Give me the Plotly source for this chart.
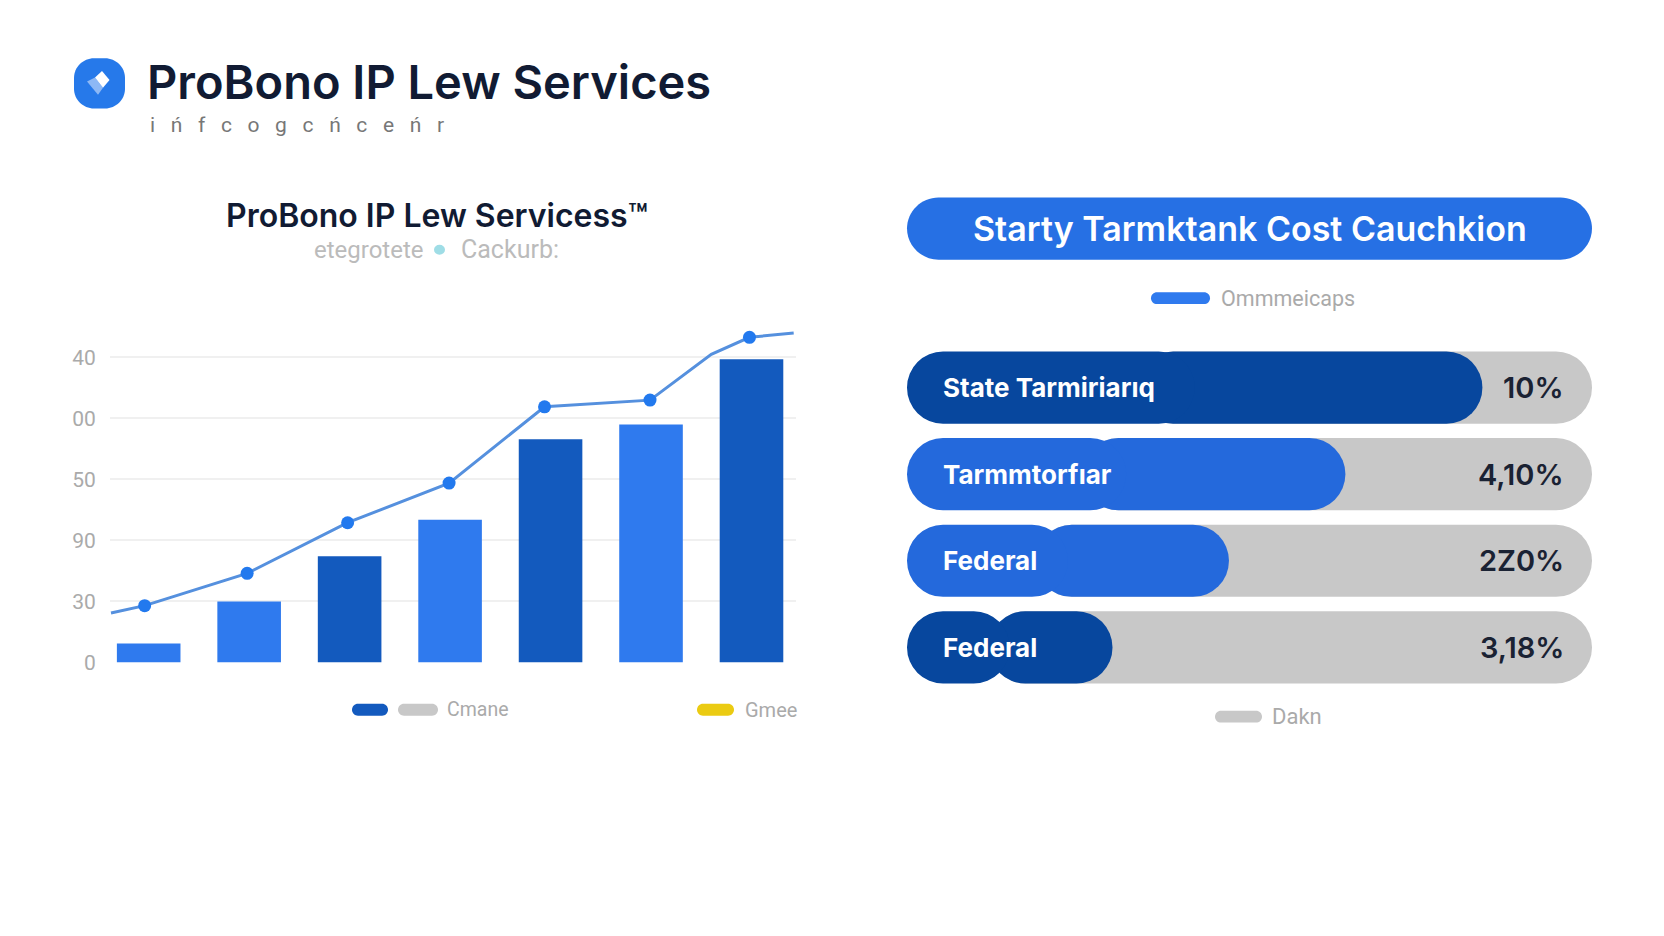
import plotly.graph_objects as go

W = 1664
H = 936

# left chart
bar_x = [0, 1, 2, 3, 4, 5, 6]
bar_values = [3.1, 10, 17.4, 23.4, 36.6, 39, 49.7]
bar_kind = ["light", "light", "dark", "light", "dark", "light", "dark"]
point_x = [-0.04, 0.98, 1.98, 2.99, 3.94, 4.99, 5.98]
point_values = [9.3, 14.6, 22.9, 29.4, 41.9, 43, 53.3]
line_x = [-0.375, -0.04, 0.98, 1.98, 2.99, 3.94, 4.99, 5.6, 5.98, 6.42]
line_values = [8.1, 9.3, 14.6, 22.9, 29.4, 41.9, 43, 50.5, 53.3, 54]
tick_vals = [0, 10, 20, 30, 40, 50]
tick_text = ["0", "30", "90", "50", "00", "40"]

# right chart
row_y = [0, 1, 2, 3]
row_labels = ["State Tarmiriarıq", "Tarmmtorfıar", "Federal", "Federal"]
row_fill = [84, 64, 47, 30]
row_text = ["10%", "4,10%", "2Z0%", "3,18%"]
row_kind = ["dark", "mid", "mid", "dark"]
row_track = [100, 100, 100, 100]

LIGHT = "#2F7AEE"
DARK = "#135ABE"
colors_left = {"light": LIGHT, "dark": DARK}
colors_right = {"dark": "#07479E", "mid": "#2469DC"}


def fx(px):
    return px / W


def fy(px):
    return 1 - px / H


def pill(x0, x1, y0, y1, color, r=None):
    # rounded rectangle, given in page pixels
    if r is None:
        r = (y1 - y0) / 2
    k = r * 0.45
    p = [
        f"M {fx(x0 + r)} {fy(y0)}",
        f"L {fx(x1 - r)} {fy(y0)}",
        f"C {fx(x1 - k)} {fy(y0)} {fx(x1)} {fy(y0 + k)} {fx(x1)} {fy(y0 + r)}",
        f"L {fx(x1)} {fy(y1 - r)}",
        f"C {fx(x1)} {fy(y1 - k)} {fx(x1 - k)} {fy(y1)} {fx(x1 - r)} {fy(y1)}",
        f"L {fx(x0 + r)} {fy(y1)}",
        f"C {fx(x0 + k)} {fy(y1)} {fx(x0)} {fy(y1 - k)} {fx(x0)} {fy(y1 - r)}",
        f"L {fx(x0)} {fy(y0 + r)}",
        f"C {fx(x0)} {fy(y0 + k)} {fx(x0 + k)} {fy(y0)} {fx(x0 + r)} {fy(y0)}",
        "Z",
    ]
    return dict(type="path", xref="paper", yref="paper", path=" ".join(p),
                fillcolor=color, line_width=0, layer="above")


def poly(pts, color):
    path = "M " + " L ".join(f"{fx(a)} {fy(b)}" for a, b in pts) + " Z"
    return dict(type="path", xref="paper", yref="paper", path=path,
                fillcolor=color, line_width=0, layer="above")


def label(x, y, text, size, color, anchor="left", font="Inter", weight=400):
    return dict(xref="paper", yref="paper", x=fx(x), y=fy(y), text=text,
                showarrow=False, xanchor=anchor, yanchor="middle",
                font=dict(family=font, size=size, color=color, weight=weight))


fig = go.Figure()

fig.add_trace(go.Bar(
    x=bar_x, y=bar_values, width=0.633,
    marker=dict(color=[colors_left[k] for k in bar_kind], line_width=0),
    xaxis="x", yaxis="y", hoverinfo="skip",
))
fig.add_trace(go.Scatter(
    x=line_x, y=line_values, mode="lines", cliponaxis=False,
    line=dict(color="#5590DE", width=3),
    xaxis="x", yaxis="y", hoverinfo="skip",
))
fig.add_trace(go.Scatter(
    x=point_x, y=point_values, mode="markers", cliponaxis=False,
    marker=dict(color="#2279EE", size=13),
    xaxis="x", yaxis="y", hoverinfo="skip",
))

# plotly only rounds the far end of a bar, so each pill is two bars
# growing away from a point inside the fill
row_colors = [colors_right[k] for k in row_kind]
fig.add_trace(go.Bar(
    x=[t - v * 0.4 for t, v in zip(row_track, row_fill)],
    base=[v * 0.4 for v in row_fill],
    y=row_y, orientation="h", width=0.834,
    marker=dict(color="#C8C8C8", cornerradius="50%", line_width=0),
    xaxis="x2", yaxis="y2", hoverinfo="skip",
))
fig.add_trace(go.Bar(
    x=[v * 0.6 for v in row_fill],
    base=[v * 0.4 for v in row_fill],
    y=row_y, orientation="h", width=0.834,
    marker=dict(color=row_colors, cornerradius="50%", line_width=0),
    xaxis="x2", yaxis="y2", hoverinfo="skip",
))
fig.add_trace(go.Bar(
    x=[-v * 0.5 for v in row_fill],
    base=[v * 0.5 for v in row_fill],
    y=row_y, orientation="h", width=0.834,
    marker=dict(color=row_colors, cornerradius="50%", line_width=0),
    xaxis="x2", yaxis="y2", hoverinfo="skip",
))

annotations = [
    label(145, 83, "ProBono IP Lew Services", 47, "#111B33", weight=600),
    label(148, 127, "i   ń   f   c   o   g   c   ń   c   e   ń   r", 21, "#777777", font="Roboto"),
    label(437, 218, "ProBono IP Lew Servicess™", 32, "#111B33", "center", weight=600),
    label(369, 253, "etegrotete", 24, "#BBBBBB", "center", font="Roboto"),
    label(510, 253, "Cackurb:", 25, "#BBBBBB", "center", font="Roboto"),
    label(1250, 231, "Starty Tarmktank Cost Cauchkion", 34, "white", "center", weight=600),
    label(445, 719, "Cmane", 19.5, "#AAAAAA", font="Roboto"),
    label(743, 719, "Gmee", 20, "#AAAAAA", font="Roboto"),
    label(1219, 302, "Ommmeicaps", 21.5, "#AAAAAA", font="Roboto"),
    label(1270, 726, "Dakn", 22, "#AAAAAA", font="Roboto"),
]

for y, name, text in zip(row_y, row_labels, row_text):
    annotations.append(dict(
        xref="x2", yref="y2", x=0, y=y, text=name, showarrow=False,
        xanchor="left", xshift=34,
        font=dict(family="Inter", size=26, color="white", weight=700),
    ))
    annotations.append(dict(
        xref="x2", yref="y2", x=100, y=y, text=text, showarrow=False,
        xanchor="right", xshift=-26,
        font=dict(family="Inter", size=29, color="#1A2233", weight=600),
    ))

shapes = [
    pill(74, 125, 59, 110, "#2679EA", r=20),
    poly([(95, 78.5), (103, 89), (98, 96), (87, 82.5)], "#8DB8F5"),
    poly([(102, 72), (109.5, 81), (103, 89), (95, 78.5)], "white"),
    pill(907, 1592, 200, 263, "#2670E4"),
    pill(352, 388, 713, 725, DARK),
    pill(398, 438, 713, 725, "#C8C8C8"),
    pill(697, 734, 713, 725, "#EBCB12"),
    pill(1151, 1210, 296, 308, LIGHT),
    pill(1215, 1262, 720, 732, "#C8C8C8"),
    dict(type="circle", xref="paper", yref="paper", x0=fx(434), x1=fx(445),
         y0=fy(258), y1=fy(248), fillcolor="#9FDDE6", line_width=0),
]

fig.update_layout(
    width=W,
    height=H,
    margin=dict(l=0, r=0, t=0, b=0),
    paper_bgcolor="white",
    plot_bgcolor="white",
    showlegend=False,
    barmode="overlay",
    annotations=annotations,
    shapes=shapes,
    xaxis=dict(domain=[fx(110), fx(796)], range=[-0.385, 6.443],
               showgrid=False, showticklabels=False, zeroline=False, ticks=""),
    yaxis=dict(domain=[fy(671), fy(325)], range=[0, 56],
               tickvals=tick_vals, ticktext=tick_text,
               gridcolor="#F0F0F0", gridwidth=1.5, zeroline=False,
               ticks="outside", ticklen=9, tickcolor="rgba(0,0,0,0)",
               tickfont=dict(family="Roboto", size=21, color="#AAAAAA")),
    xaxis2=dict(domain=[fx(907), fx(1592)], range=[0, 100], anchor="y2",
                visible=False),
    yaxis2=dict(domain=[fy(699.6), fy(348.8)], range=[3.5, -0.5], anchor="x2",
                visible=False),
)

fig.write_html(
    "out.html",
    config={"displayModeBar": False},
    post_script="document.body.style.margin='0';document.documentElement.style.overflow='hidden';",
)
